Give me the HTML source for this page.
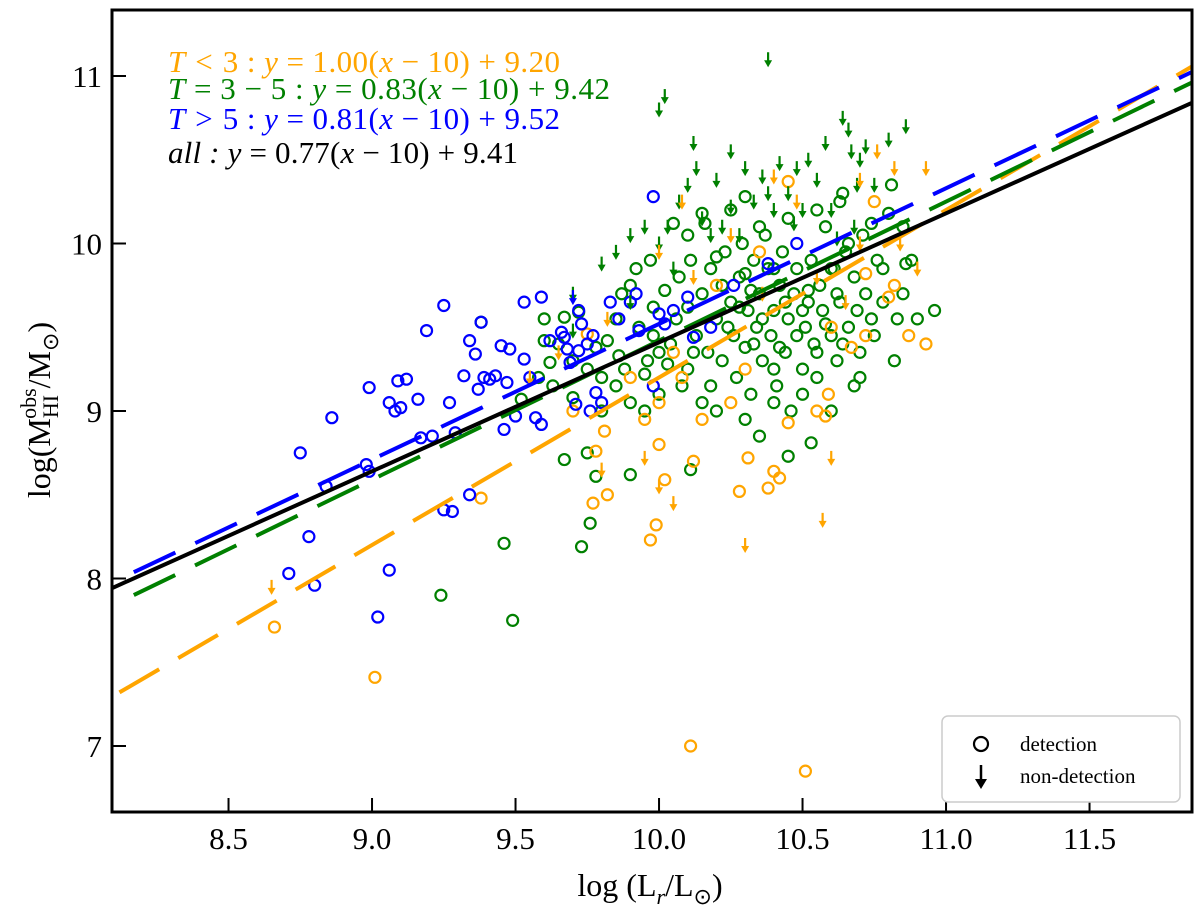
<!DOCTYPE html>
<html><head><meta charset="utf-8">
<style>
body{margin:0;background:#fff;}
svg{display:block;font-family:"Liberation Serif",serif;}
</style></head>
<body>
<svg id="chart" width="1200" height="916" viewBox="0 0 1200 916">
<defs><clipPath id="clip"><rect x="112" y="10" width="1080" height="802"/></clipPath></defs>
<g id="marks" clip-path="url(#clip)"></g>
<rect x="112" y="10" width="1080" height="802" fill="none" stroke="#000" stroke-width="3"/>
<g id="axes"></g>
<g font-size="31" font-style="italic">
<text x="168" y="72" textLength="392" lengthAdjust="spacing" fill="orange">T &lt; <tspan font-style="normal">3 : </tspan>y<tspan font-style="normal"> = 1.00(</tspan>x<tspan font-style="normal"> − 10) + 9.20</tspan></text>
<text x="168" y="99" textLength="442" lengthAdjust="spacing" fill="green">T<tspan font-style="normal"> = 3 − 5 : </tspan>y<tspan font-style="normal"> = 0.83(</tspan>x<tspan font-style="normal"> − 10) + 9.42</tspan></text>
<text x="168" y="129" textLength="392" lengthAdjust="spacing" fill="blue">T &gt; <tspan font-style="normal">5 : </tspan>y<tspan font-style="normal"> = 0.81(</tspan>x<tspan font-style="normal"> − 10) + 9.52</tspan></text>
<text x="168" y="163" textLength="350" lengthAdjust="spacing" fill="#000">all : y<tspan font-style="normal"> = 0.77(</tspan>x<tspan font-style="normal"> − 10) + 9.41</tspan></text>
</g>
<g>
<rect x="942" y="716" width="238" height="86" rx="6" fill="#fff" stroke="#ccc" stroke-width="1.5"/>
<circle cx="981" cy="744" r="7" fill="none" stroke="#000" stroke-width="2.2"/>
<text x="1020" y="751" font-size="21">detection</text>
<g><line x1="981" y1="765" x2="981" y2="785" stroke="#000" stroke-width="2.5"/><path d="M975 779 L981 789 L987 779 Z" fill="#000"/></g>
<text x="1020" y="783" font-size="21">non-detection</text>
</g>
<text x="650" y="896" font-size="32" text-anchor="middle">log (L<tspan font-size="22" dy="8" font-style="italic">r</tspan><tspan dy="-8">/L</tspan><tspan font-size="22" dy="8">⊙</tspan><tspan dy="-8">)</tspan></text>
<text transform="translate(50,410) rotate(-90)" font-size="32" text-anchor="middle">log(M<tspan font-size="22" dy="8">HI</tspan><tspan font-size="22" dx="-24" dy="-22">obs</tspan><tspan dy="14">/M</tspan><tspan font-size="22" dy="8">⊙</tspan><tspan dy="-8">)</tspan></text>
</svg>
<script>
const xTicks=[8.5,9.0,9.5,10.0,10.5,11.0,11.5];
const yTicks=[7,8,9,10,11];
const fitSlopes=[1.00,0.83,0.81,0.77];
const fitIntercepts=[9.20,9.42,9.52,9.41];
const fitColors=['orange','green','blue','#000'];
const blueDet=[[8.75,8.75],[8.71,8.03],[8.84,8.55],[8.86,8.96],[8.78,8.25],[8.80,7.96],[8.98,8.68],[8.99,8.64],[8.99,9.14],[9.06,9.05],[9.08,9.0],[9.10,9.02],[9.09,9.18],[9.12,9.19],[9.16,9.07],[9.19,9.48],[9.17,8.84],[9.21,8.85],[9.25,9.63],[9.25,8.41],[9.27,9.05],[9.29,8.87],[9.32,9.21],[9.34,9.42],[9.36,9.34],[9.37,9.13],[9.38,9.53],[9.39,9.2],[9.41,9.19],[9.43,9.21],[9.45,9.39],[9.47,9.17],[9.46,8.89],[9.48,9.37],[9.5,8.97],[9.53,9.31],[9.53,9.65],[9.55,9.2],[9.57,8.96],[9.59,8.92],[9.59,9.68],[9.62,9.42],[9.66,9.47],[9.67,9.44],[9.68,9.37],[9.69,9.29],[9.72,9.36],[9.73,9.52],[9.72,9.6],[9.75,9.4],[9.77,9.45],[9.76,9.0],[9.80,9.05],[9.83,9.65],[9.86,9.55],[9.90,9.65],[9.92,9.7],[9.93,9.48],[9.98,10.28],[10.0,9.58],[10.02,9.52],[10.05,9.6],[10.1,9.68],[10.12,9.44],[10.18,9.5],[10.26,9.75],[10.38,9.88],[10.48,10.0],[9.02,7.77],[9.06,8.05],[9.34,8.5],[9.71,9.04],[9.78,9.11],[9.98,9.15],[9.28,8.4]];
const blueUL=[[9.7,9.68]];
const orangeDet=[[8.66,7.71],[9.01,7.41],[9.38,8.48],[9.75,9.46],[9.70,9.0],[9.77,8.45],[9.78,8.76],[9.81,8.88],[9.97,8.23],[9.99,8.32],[10.02,8.59],[10.12,8.7],[10.11,7.0],[10.28,8.52],[10.31,8.72],[10.38,8.54],[10.40,8.64],[10.51,6.85],[10.45,8.93],[10.55,9.0],[10.58,8.97],[10.59,9.1],[10.67,9.38],[10.72,9.45],[10.87,9.45],[10.80,9.68],[10.82,9.75],[10.72,9.82],[10.93,9.4],[10.45,10.37],[10.35,9.95],[10.2,9.75],[10.08,9.2],[10.0,9.05],[9.95,8.95],[10.05,9.35],[10.6,9.5],[10.75,10.25],[9.9,9.2],[10.15,8.95],[10.25,9.05],[10.3,9.25],[10.0,8.8],[10.42,8.6],[9.82,8.5]];
const orangeUL=[[8.65,7.95],[9.8,8.65],[9.95,8.72],[10.0,8.55],[10.05,8.45],[10.08,10.25],[10.3,8.2],[10.57,8.35],[10.6,8.72],[10.7,10.38],[10.82,10.45],[10.76,10.55],[10.93,10.45],[10.7,10.0],[10.65,9.65],[10.55,9.8],[10.25,10.05],[10.12,9.8],[10.0,9.95],[9.82,9.55],[9.65,9.35],[9.55,9.2],[10.36,9.7],[10.48,10.25],[10.4,10.4],[10.84,10.0],[10.9,9.85]];
const greenDet=[[9.24,7.9],[9.49,7.75],[9.46,8.21],[9.73,8.19],[9.76,8.33],[9.78,8.61],[9.75,8.75],[9.67,8.71],[9.9,8.62],[10.11,8.65],[10.53,8.81],[10.45,8.73],[9.38,9.53],[9.6,9.42],[9.62,9.29],[9.52,9.07],[9.67,9.56],[9.72,9.59],[9.78,9.38],[9.82,9.42],[9.86,9.33],[9.87,9.7],[9.9,9.75],[9.93,9.5],[9.95,9.22],[9.96,9.3],[9.98,9.62],[10.02,9.72],[10.04,9.4],[10.06,9.55],[10.08,9.15],[10.1,9.62],[10.11,9.9],[10.13,9.45],[10.15,9.7],[10.16,10.12],[10.17,9.35],[10.18,9.85],[10.2,9.55],[10.22,9.3],[10.23,9.95],[10.25,9.65],[10.26,9.45],[10.27,9.2],[10.28,9.8],[10.29,10.0],[10.3,9.38],[10.31,9.6],[10.32,9.1],[10.33,9.9],[10.34,9.5],[10.35,9.7],[10.36,9.3],[10.37,10.05],[10.38,9.85],[10.39,9.45],[10.4,9.6],[10.41,9.15],[10.42,9.75],[10.43,9.95],[10.44,9.35],[10.45,9.55],[10.46,9.0],[10.47,9.7],[10.48,9.85],[10.5,9.25],[10.51,9.5],[10.52,9.65],[10.53,9.9],[10.54,9.4],[10.55,9.2],[10.56,9.75],[10.57,9.6],[10.58,10.1],[10.6,9.45],[10.61,9.85],[10.62,9.3],[10.63,9.65],[10.64,10.3],[10.65,9.95],[10.66,9.5],[10.68,9.8],[10.69,9.6],[10.7,9.2],[10.71,10.05],[10.72,9.7],[10.74,9.55],[10.76,9.9],[10.78,9.65],[10.8,10.18],[10.81,10.35],[10.83,9.55],[10.85,10.1],[10.86,9.88],[10.88,9.9],[10.96,9.6],[10.63,10.25],[10.55,10.2],[10.45,10.15],[10.35,10.1],[10.25,10.2],[10.15,10.18],[10.05,10.12],[9.97,9.9],[9.92,9.85],[9.85,9.55],[9.8,9.2],[9.75,9.25],[9.7,9.3],[9.65,9.4],[9.6,9.55],[9.9,9.05],[9.95,9.0],[10.0,9.1],[10.1,9.25],[10.2,9.0],[10.3,8.95],[10.35,8.85],[10.4,9.05],[10.5,9.1],[10.6,9.0],[10.7,9.35],[10.75,9.45],[10.82,9.3],[10.9,9.55],[9.58,9.2],[9.63,9.15],[9.88,9.25],[9.85,9.15],[10.03,9.28],[10.12,9.35],[10.18,9.15],[10.24,9.5],[10.32,9.72],[10.4,9.85],[10.48,9.45],[10.55,9.35],[10.62,9.7],[10.68,9.15],[10.78,9.85],[10.85,9.7],[10.1,10.05],[10.2,9.92],[10.3,9.82],[9.98,9.45],[10.07,9.8],[10.28,9.62],[10.42,9.38],[10.52,9.72],[10.58,9.52],[10.66,10.0],[10.74,10.12],[10.3,10.28],[10.4,9.25],[10.15,9.05],[10.33,9.4],[10.44,9.65],[10.6,9.85],[9.7,9.08],[9.8,9.0],[10.0,9.35],[10.22,9.75],[10.36,9.55],[10.5,9.6],[10.64,9.4]];
const greenUL=[[9.7,9.7],[9.7,9.48],[9.8,9.88],[9.85,9.95],[9.9,10.05],[9.95,10.1],[10.0,10.0],[10.03,10.1],[10.07,10.25],[10.1,10.35],[10.13,10.45],[10.18,10.05],[10.2,10.38],[10.22,10.1],[10.25,10.22],[10.28,10.05],[10.3,10.45],[10.33,10.25],[10.36,10.4],[10.38,11.1],[10.4,10.2],[10.42,10.48],[10.45,10.3],[10.47,10.12],[10.48,10.45],[10.52,10.5],[10.55,10.38],[10.58,10.6],[10.6,10.2],[10.64,10.75],[10.66,10.68],[10.67,10.55],[10.69,10.35],[10.7,10.5],[10.72,10.58],[10.75,10.35],[10.8,10.62],[10.86,10.7],[10.0,10.8],[10.02,10.88],[10.12,10.6],[10.25,10.55],[9.9,9.65],[10.15,10.15],[10.5,10.2],[10.38,10.3],[10.05,9.85],[10.68,10.1],[10.62,10.03]];

const NS='http://www.w3.org/2000/svg';
const X0=112,X1=1192,Y0=812,Y1=10;
const xmin=8.094,xmax=11.857,ymin=6.606,ymax=11.394;
function sx(v){return X0+(v-xmin)/(xmax-xmin)*(X1-X0);}
function sy(v){return Y0-(v-ymin)/(ymax-ymin)*(Y0-Y1);}
function mk(tag,attrs,parent){const e=document.createElementNS(NS,tag);for(const k in attrs)e.setAttribute(k,attrs[k]);parent.appendChild(e);return e;}
const marks=document.getElementById('marks');
const axes=document.getElementById('axes');

xTicks.forEach(t=>{
  const l=mk('line',{x1:sx(t),x2:sx(t),y1:Y0,y2:Y0-14,stroke:'#000','stroke-width':2},axes);
  
  
  const tx=mk('text',{x:sx(t),y:Y0+37,'font-size':31,'text-anchor':'middle'},axes);
  tx.textContent=t.toFixed(1);
  
  
});
yTicks.forEach(t=>{
  const l=mk('line',{x1:X0,x2:X0+14,y1:sy(t),y2:sy(t),stroke:'#000','stroke-width':2},axes);
  
  
  const tx=mk('text',{x:X0-10,y:sy(t)+11,'font-size':31,'text-anchor':'end'},axes);
  tx.textContent=String(t);
  
  
});

function circles(arr,color,name){
  arr.forEach(p=>{
    const c=mk('circle',{cx:sx(p[0]),cy:sy(p[1]),r:5.5,fill:'none',stroke:color,'stroke-width':2.2},marks);
    
    
  });
}
function arrows(arr,color,name){
  arr.forEach(p=>{
    const x=sx(p[0]),y=sy(p[1]);
    const g=mk('g',{},marks);
    
    
    mk('line',{x1:x,x2:x,y1:y-7,y2:y+3,stroke:color,'stroke-width':2.2},g);
    mk('path',{d:`M${x-4} ${y+1} L${x} ${y+8} L${x+4} ${y+1} Z`,fill:color},g);
  });
}
circles(greenDet,'green','green-detection');
circles(orangeDet,'orange','orange-detection');
circles(blueDet,'blue','blue-detection');
arrows(greenUL,'green','green-nondetection');
arrows(orangeUL,'orange','orange-nondetection');
arrows(blueUL,'blue','blue-nondetection');

const fitStart=[8.12,8.17,8.17,xmin];
const fitNames=['fit-line-t-lt-3','fit-line-t-3-5','fit-line-t-gt-5','fit-line-all'];
fitSlopes.forEach((m,i)=>{
  const b=fitIntercepts[i];
  const xa=fitStart[i],xb=xmax+0.05;
  const a={x1:sx(xa),y1:sy(m*(xa-10)+b),x2:sx(xb),y2:sy(m*(xb-10)+b),stroke:fitColors[i],'stroke-width':4};
  if(i<3)a['stroke-dasharray']='46 22';
  const l=mk('line',a,marks);
  
  
});
</script>
</body></html>
